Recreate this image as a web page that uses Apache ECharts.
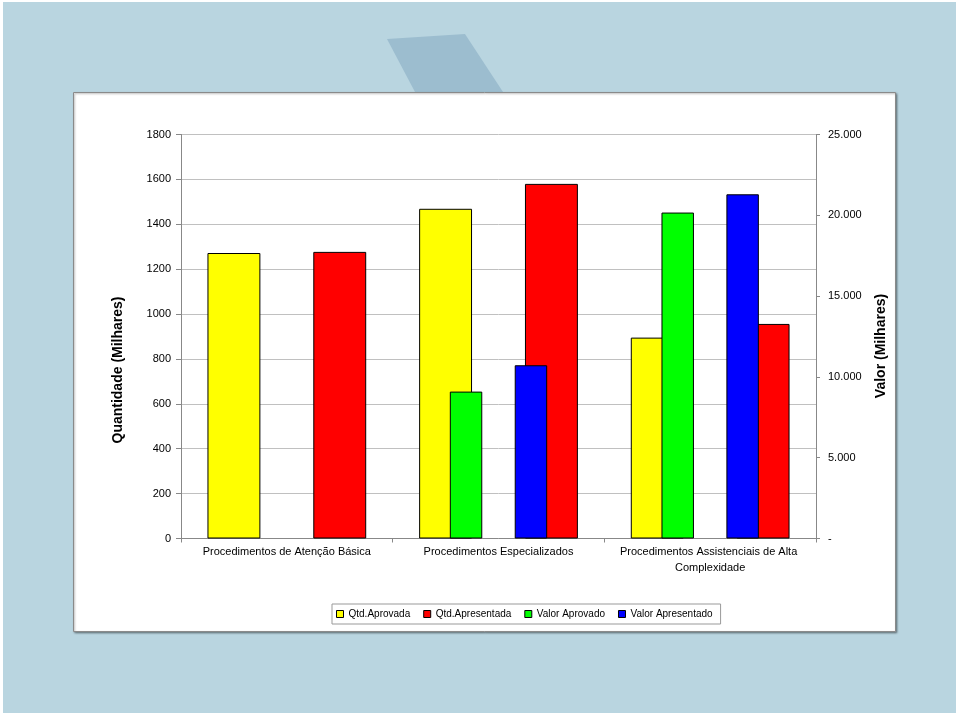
<!DOCTYPE html>
<html>
<head>
<meta charset="utf-8">
<script src="https://cdn.jsdelivr.net/npm/echarts@6/dist/echarts.min.js"></script>
<style>
html,body{margin:0;padding:0;background:#fff;}
#chart{width:960px;height:716px;}
</style>
</head>
<body>
<div id="chart"></div>
<script>
// ---- Data ----
var categories = ['Procedimentos de Atenção Básica', 'Procedimentos Especializados', 'Procedimentos Assistenciais de Alta Complexidade'];
var qtdAprovada = [1272, 1469, 895];
var qtdApresentada = [1277, 1580, 956];
var valorAprovado = [null, 9090, 20170];
var valorApresentado = [null, 10720, 21300];
var leftTicks = {min: 0, max: 1800, interval: 200};
var rightTicks = {min: 0, max: 25000, interval: 5000};
var seriesNames = ['Qtd.Aprovada', 'Qtd.Apresentada', 'Valor Aprovado', 'Valor Apresentado'];
var leftTitle = 'Quantidade (Milhares)';
var rightTitle = 'Valor (Milhares)';

function fmtThousands(v) {
  if (v === 0) return '-';
  return String(v).replace(/\B(?=(\d{3})+(?!\d))/g, '.');
}

var chart = echarts.init(document.getElementById('chart'), null, {renderer: 'canvas'});
var font = 'Arial, "Liberation Sans", sans-serif';

var option = {
  animation: false,
  backgroundColor: '#ffffff',
  textStyle: {fontFamily: font},
  graphic: [
    {type: 'rect', z: -100, shape: {x: 3, y: 2, width: 953, height: 711}, style: {fill: '#b9d5e0'}},
    {type: 'polygon', z: -99, shape: {points: [[387, 39], [465, 34], [503, 92], [415, 92]]}, style: {fill: '#9cbdcf'}},
    {type: 'rect', z: -98, shape: {x: 73.5, y: 92.5, width: 822, height: 539},
      style: {fill: '#ffffff', stroke: '#8a8a8a', lineWidth: 1, shadowBlur: 2, shadowOffsetX: 1, shadowOffsetY: 1, shadowColor: 'rgba(0,0,0,0.35)'}},
    {type: 'text', z: 10, x: 118, y: 370, rotation: Math.PI / 2,
      style: {text: leftTitle, font: 'bold 14px Arial, "Liberation Sans", sans-serif', fill: '#000', textAlign: 'center', textVerticalAlign: 'middle'}},
    {type: 'text', z: 10, x: 881, y: 346, rotation: Math.PI / 2,
      style: {text: rightTitle, font: 'bold 14px Arial, "Liberation Sans", sans-serif', fill: '#000', textAlign: 'center', textVerticalAlign: 'middle'}}
  ],
  legend: {
    data: seriesNames,
    left: 332,
    top: 604,
    orient: 'horizontal',
    icon: 'rect',
    itemWidth: 7,
    itemHeight: 7,
    itemGap: 13,
    padding: [5, 8, 5, 4],
    borderColor: '#999',
    borderWidth: 1,
    backgroundColor: '#fff',
    textStyle: {fontSize: 10, color: '#000', fontFamily: font},
    itemStyle: {borderColor: '#000', borderWidth: 1}
  },
  grid: {left: 181, right: 144, top: 134.5, bottom: 177.5, containLabel: false},
  xAxis: [
    {
      type: 'category', data: categories, gridIndex: 0, position: 'bottom',
      axisLine: {show: true, lineStyle: {color: '#888'}},
      axisTick: {show: true, length: 4, lineStyle: {color: '#888'}},
      axisLabel: {fontSize: 11, color: '#000', interval: 0, width: 195, overflow: 'break', lineHeight: 16, margin: 5, fontFamily: font},
      splitLine: {show: false}
    },
    {
      type: 'category', data: categories, gridIndex: 0, show: false
    }
  ],
  yAxis: [
    {
      type: 'value', min: leftTicks.min, max: leftTicks.max, interval: leftTicks.interval, position: 'left',
      axisLine: {show: true, lineStyle: {color: '#888'}},
      axisTick: {show: true, length: 5, lineStyle: {color: '#888'}},
      axisLabel: {fontSize: 11, color: '#000', margin: 10, fontFamily: font, formatter: function (v) { return String(v); }},
      splitLine: {show: true, lineStyle: {color: '#c0c0c0', width: 1}}
    },
    {
      type: 'value', min: rightTicks.min, max: rightTicks.max, interval: rightTicks.interval, position: 'right',
      axisLine: {show: true, lineStyle: {color: '#888'}},
      axisTick: {show: true, length: 4, lineStyle: {color: '#888'}},
      axisLabel: {fontSize: 11, color: '#000', margin: 12, formatter: fmtThousands, fontFamily: font},
      splitLine: {show: false}
    }
  ],
  series: [
    {name: seriesNames[0], type: 'bar', xAxisIndex: 0, yAxisIndex: 0, data: qtdAprovada,
      barGap: '100%', barCategoryGap: '25%',
      itemStyle: {color: '#ffff00', borderColor: '#000', borderWidth: 1}},
    {name: seriesNames[1], type: 'bar', xAxisIndex: 0, yAxisIndex: 0, data: qtdApresentada,
      barGap: '100%', barCategoryGap: '25%',
      itemStyle: {color: '#ff0000', borderColor: '#000', borderWidth: 1}},
    {name: seriesNames[2], type: 'bar', xAxisIndex: 1, yAxisIndex: 1, data: valorAprovado,
      barGap: '100%', barCategoryGap: '54%',
      itemStyle: {color: '#00ff00', borderColor: '#000', borderWidth: 1}},
    {name: seriesNames[3], type: 'bar', xAxisIndex: 1, yAxisIndex: 1, data: valorApresentado,
      barGap: '100%', barCategoryGap: '54%',
      itemStyle: {color: '#0000ff', borderColor: '#000', borderWidth: 1}}
  ]
};
chart.setOption(option);
</script>
</body>
</html>
